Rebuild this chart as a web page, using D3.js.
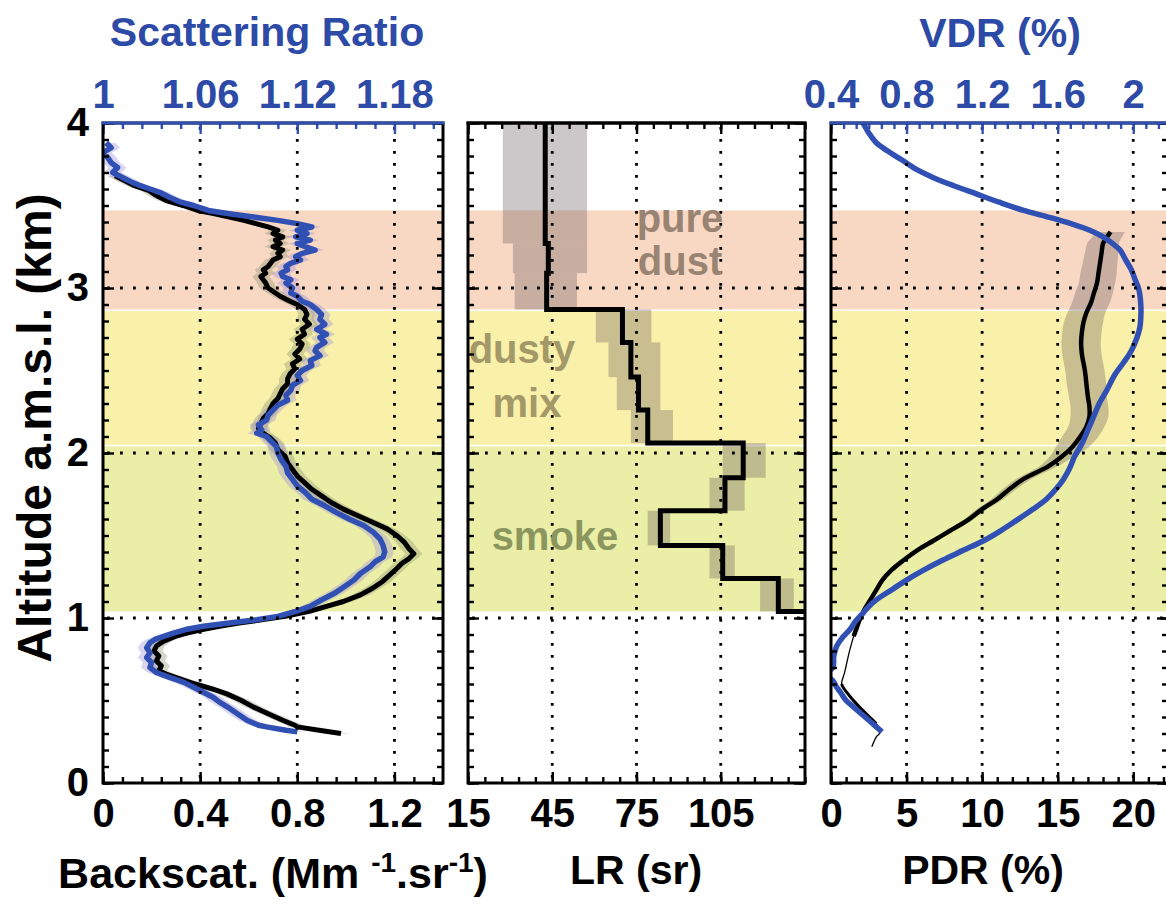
<!DOCTYPE html>
<html>
<head>
<meta charset="utf-8">
<script src="https://cdn.jsdelivr.net/npm/d3@7"></script>
<style>
  body { margin: 0; background: #fff; }
  svg { display: block; }
  text { font-family: "Liberation Sans", Arial, Helvetica, sans-serif; font-weight: bold; }
</style>
</head>
<body>
<svg id="chart" width="1166" height="904"></svg>
<script>
// ---------------- data ----------------
// aerosol layers (altitude, km)
const layerNames  = ["pure dust", "dusty mix", "smoke"];
const layerTop    = [3.47, 2.86, 2.04];
const layerBottom = [2.87, 2.05, 1.04];

// backscatter profile (Mm-1 sr-1), black
const bsAlt = [3.68,3.65,3.62,3.59,3.56,3.53,3.50,3.47,3.45,3.43,
  3.41,3.39,3.37,3.35,3.33,3.31,3.29,3.27,3.25,3.23,
  3.21,3.19,3.17,3.15,3.13,3.11,3.09,3.07,3.05,3.03,
  3.00,2.97,2.95,2.92,2.90,2.87,2.84,2.81,2.78,2.75,
  2.72,2.69,2.66,2.63,2.60,2.57,2.54,2.51,2.48,2.45,
  2.42,2.39,2.36,2.33,2.30,2.27,2.24,2.21,2.18,2.15,
  2.12,2.09,2.06,2.02,1.98,1.94,1.90,1.86,1.82,1.78,
  1.74,1.70,1.66,1.62,1.58,1.54,1.50,1.46,1.42,1.39,
  1.36,1.33,1.30,1.26,1.22,1.18,1.14,1.10,1.07,1.04,
  1.01,0.99,0.97,0.95,0.93,0.91,0.89,0.86,0.83,0.80,
  0.77,0.74,0.71,0.68,0.66,0.63,0.60,0.57,0.54,0.50,
  0.46,0.42,0.38,0.35,0.34,0.32,0.30];
const bsVal = [0.05,0.09,0.13,0.19,0.22,0.26,0.33,0.39,0.46,0.52,
  0.58,0.63,0.68,0.72,0.70,0.74,0.71,0.73,0.70,0.74,
  0.72,0.73,0.70,0.69,0.68,0.66,0.67,0.65,0.66,0.67,
  0.68,0.71,0.73,0.77,0.80,0.83,0.84,0.83,0.85,0.82,
  0.83,0.80,0.82,0.81,0.79,0.81,0.78,0.79,0.77,0.76,
  0.76,0.74,0.73,0.72,0.70,0.69,0.68,0.66,0.65,0.64,
  0.66,0.69,0.71,0.72,0.75,0.76,0.78,0.80,0.83,0.86,
  0.90,0.94,0.99,1.05,1.11,1.17,1.21,1.24,1.26,1.28,
  1.26,1.23,1.21,1.18,1.15,1.11,1.06,0.99,0.92,0.85,
  0.75,0.66,0.56,0.48,0.41,0.35,0.30,0.25,0.22,0.21,
  0.23,0.22,0.24,0.23,0.26,0.32,0.38,0.45,0.51,0.57,
  0.62,0.68,0.74,0.79,0.80,0.89,0.98];
const bsUncert = 0.035;

// scattering ratio profile, blue
const srAlt = [3.88,3.85,3.82,3.79,3.76,3.73,3.70,3.67,3.64,3.62,
  3.60,3.58,3.55,3.52,3.50,3.47,3.45,3.43,3.41,3.39,
  3.37,3.35,3.33,3.31,3.29,3.27,3.25,3.23,3.21,3.19,
  3.17,3.15,3.13,3.11,3.09,3.07,3.05,3.03,3.00,2.97,
  2.95,2.92,2.90,2.87,2.84,2.81,2.78,2.75,2.72,2.70,
  2.67,2.64,2.62,2.59,2.56,2.53,2.50,2.47,2.44,2.41,
  2.38,2.35,2.32,2.29,2.26,2.23,2.20,2.17,2.14,2.12,
  2.10,2.07,2.04,2.00,1.96,1.92,1.88,1.84,1.80,1.76,
  1.72,1.68,1.64,1.60,1.56,1.52,1.48,1.44,1.40,1.37,
  1.34,1.31,1.27,1.23,1.19,1.15,1.11,1.07,1.04,1.01,
  0.99,0.97,0.95,0.93,0.91,0.89,0.87,0.85,0.82,0.79,
  0.76,0.73,0.70,0.67,0.64,0.61,0.58,0.55,0.52,0.49,
  0.46,0.42,0.38,0.35,0.34,0.32,0.31];
const srVal = [1.002,1.005,1.000,1.003,1.005,1.009,1.006,1.012,1.018,1.023,
  1.029,1.035,1.041,1.048,1.056,1.065,1.078,1.093,1.108,1.120,
  1.129,1.120,1.126,1.119,1.128,1.120,1.125,1.131,1.123,1.119,
  1.122,1.116,1.113,1.114,1.110,1.111,1.116,1.113,1.117,1.116,
  1.120,1.123,1.128,1.132,1.135,1.134,1.137,1.132,1.138,1.134,
  1.137,1.132,1.131,1.134,1.128,1.129,1.123,1.120,1.122,1.117,
  1.116,1.113,1.114,1.108,1.105,1.102,1.101,1.096,1.098,1.095,
  1.101,1.104,1.107,1.108,1.110,1.113,1.114,1.117,1.120,1.125,
  1.129,1.137,1.144,1.152,1.161,1.167,1.171,1.173,1.174,1.173,
  1.168,1.165,1.159,1.155,1.149,1.143,1.135,1.128,1.119,1.108,
  1.095,1.078,1.062,1.051,1.044,1.038,1.032,1.029,1.027,1.029,
  1.027,1.030,1.029,1.033,1.041,1.050,1.056,1.062,1.068,1.072,
  1.077,1.083,1.089,1.096,1.101,1.113,1.120];
const srUncert = 0.0055;

// lidar ratio (sr) in altitude bins
const lrBinEdges = [4.0,3.27,3.09,2.87,2.67,2.46,2.26,2.06,1.85,1.65,1.44,1.24,1.04];
const lrVal  = [42.5,43.6,43.0,70.0,73.0,75.7,79.0,113.0,106.5,83.5,105.7,125.5];
const lrLow  = [27.4,31.0,31.6,60.5,65.0,68.0,73.0,105.7,101.0,79.0,101.0,119.0];
const lrHigh = [57.4,57.4,53.8,80.3,83.5,83.5,88.0,121.0,113.5,87.0,110.0,131.0];

// particle depolarisation ratio (%), black
const pdrAlt = [3.34,3.30,3.27,3.21,3.15,3.09,3.03,2.97,2.91,2.85,
  2.79,2.73,2.67,2.60,2.50,2.42,2.34,2.28,2.22,2.16,
  2.10,2.04,1.98,1.92,1.84,1.78,1.72,1.66,1.59,1.53,
  1.47,1.41,1.35,1.29,1.23,1.17,1.11,1.05,0.99,0.94,0.89];
const pdrVal = [18.5,18.2,18.0,17.9,17.8,17.7,17.6,17.4,17.2,16.9,
  16.7,16.6,16.55,16.6,16.8,16.9,17.0,17.1,17.1,16.9,
  16.5,16.0,15.3,14.4,12.7,11.8,11.0,10.0,9.0,7.9,
  6.8,5.7,4.8,4.0,3.4,3.0,2.6,2.2,1.9,1.7,1.5];
const pdrErr = [0.95,1.0,1.05,1.1,1.15,1.2,1.2,1.25,1.25,1.25,
  1.3,1.3,1.3,1.3,1.3,1.3,1.25,1.25,1.25,1.2,
  1.2,1.1,0.8,0.6,0.5,0.45,0.4,0.35,0.3,0.25,
  0.2,0.2,0.15,0.15,0.1,0.1,0.1,0.1,0.1,0.1,0.1];
const pdrTailAlt = [0.89,0.79,0.67,0.60,0.58,0.52,0.44,0.36,0.30,0.28,0.22];
const pdrTailVal = [1.5,1.2,0.9,0.7,0.8,1.3,2.1,3.0,3.2,3.0,2.7];

// volume depolarisation ratio (%), blue
const vdrAlt = [4.00,3.94,3.88,3.83,3.78,3.72,3.67,3.62,3.57,3.52,
  3.47,3.43,3.39,3.35,3.31,3.27,3.23,3.17,3.11,3.05,
  2.99,2.90,2.82,2.76,2.70,2.62,2.55,2.47,2.38,2.30,
  2.22,2.14,2.06,1.98,1.90,1.84,1.78,1.72,1.66,1.59,
  1.53,1.47,1.41,1.35,1.29,1.23,1.17,1.11,1.07,1.03,
  0.98,0.93,0.88,0.83,0.77,0.70,0.66,0.62,0.58,0.55,
  0.50,0.46,0.42,0.38,0.34,0.31];
const vdrVal = [0.57,0.60,0.64,0.70,0.77,0.85,0.94,1.05,1.17,1.29,
  1.42,1.55,1.67,1.77,1.84,1.89,1.93,1.96,1.99,2.01,
  2.03,2.04,2.04,2.035,2.02,1.99,1.95,1.90,1.86,1.82,
  1.79,1.76,1.73,1.69,1.66,1.63,1.59,1.54,1.47,1.38,
  1.30,1.21,1.10,0.99,0.89,0.80,0.72,0.64,0.60,0.57,
  0.53,0.50,0.46,0.43,0.415,0.41,0.37,0.41,0.43,0.45,
  0.48,0.52,0.56,0.60,0.64,0.67];

// tick labels
const altTickLabels = ["0","1","2","3","4"];
const bsTickLabels  = ["0","0.4","0.8","1.2"];
const srTickLabels  = ["1","1.06","1.12","1.18"];
const lrTickLabels  = ["15","45","75","105"];
const pdrTickLabels = ["0","5","10","15","20"];
const vdrTickLabels = ["0.4","0.8","1.2","1.6","2"];

// ---------------- layout & scales ----------------
const BLUE = "#3150b4", BLUE_TXT = "#2c4aa6";
const bandFill = ["#f9d8c3", "#f9f0aa", "#ebeea6"];
const errFill = "rgba(95,85,90,0.32)";
const plotTop = 123, plotBottom = 783;

const svg = d3.select("#chart");
const yAlt = d3.scaleLinear().domain([0, 4]).range([plotBottom, plotTop]);

const pBs  = {x0: 103, x1: 443};
const pLr  = {x0: 468, x1: 805};
const pPdr = {x0: 831, x1: 1168};

const bsX  = d3.scaleLinear().domain([0, 1.4]).range([pBs.x0, pBs.x1]);
const srX  = d3.scaleLinear().domain([1, 1.21]).range([pBs.x0, pBs.x1]);
const lrX  = d3.scaleLinear().domain([15, 135]).range([pLr.x0, pLr.x1]);
const pdrX = d3.scaleLinear().domain([0, 22.3]).range([pPdr.x0, pPdr.x1]);
const vdrX = d3.scaleLinear().domain([0.4, 0.4 + 0.08 * 22.3]).range([pPdr.x0, pPdr.x1]);

const altMinor = d3.range(0, 4.0001, 0.1).map(v => +v.toFixed(2));
const altMajor = altTickLabels.map(Number);

function panelBase(p, id) {
  const g = svg.append("g");
  g.append("clipPath").attr("id", "clip-" + id)
    .append("rect").attr("x", p.x0).attr("y", plotTop).attr("width", p.x1 - p.x0).attr("height", plotBottom - plotTop);
  // layer bands
  g.selectAll("rect.band").data(layerNames).join("rect").attr("class", "band")
    .attr("x", p.x0).attr("width", p.x1 - p.x0)
    .attr("y", (d, i) => yAlt(layerTop[i]))
    .attr("height", (d, i) => yAlt(layerBottom[i]) - yAlt(layerTop[i]))
    .attr("fill", (d, i) => bandFill[i]);
  return g;
}

function dottedGrid(g, xScale, xGrid, p) {
  const gg = g.append("g");
  gg.selectAll("line.v").data(xGrid).join("line")
    .attr("x1", d => xScale(d)).attr("x2", d => xScale(d))
    .attr("y1", plotTop + 4).attr("y2", plotBottom)
    .attr("stroke", "#000").attr("stroke-width", 2.8).attr("stroke-dasharray", "2.8,9.2");
  gg.selectAll("line.h").data([1, 2, 3]).join("line")
    .attr("x1", p.x0 + 4).attr("x2", p.x1)
    .attr("y1", d => yAlt(d)).attr("y2", d => yAlt(d))
    .attr("stroke", "#000").attr("stroke-width", 2.8).attr("stroke-dasharray", "2.8,10.2");
}

function styleAxis(sel, color) {
  sel.select(".domain").remove();
  sel.selectAll("line").attr("stroke", color).attr("stroke-width", 2.4);
  sel.selectAll("text").attr("fill", color === BLUE ? BLUE_TXT : color).attr("font-size", 40)
    .attr("font-family", "'Liberation Sans', Arial, sans-serif").attr("font-weight", "bold");
}

function tickSet(g, axisFn, scale, minor, major, labels, transform, color, pad) {
  g.append("g").attr("transform", transform)
    .call(axisFn(scale).tickValues(minor).tickSize(-6).tickFormat(""))
    .call(s => styleAxis(s, color));
  const ax = axisFn(scale).tickValues(major).tickSize(-11)
    .tickFormat(labels ? (d, i) => labels[i] : "").tickPadding(pad || 0);
  g.append("g").attr("transform", transform).call(ax).call(s => styleAxis(s, color));
}

function frame(g, p, topColor) {
  g.append("rect").attr("x", p.x0).attr("y", plotTop).attr("width", p.x1 - p.x0).attr("height", plotBottom - plotTop)
    .attr("fill", "none").attr("stroke", "#000").attr("stroke-width", 3);
  g.append("line").attr("x1", p.x0 - 1.5).attr("x2", p.x1 + 1.5).attr("y1", plotTop).attr("y2", plotTop)
    .attr("stroke", topColor).attr("stroke-width", 3);
}

function yTicks(g, p, withLabels) {
  tickSet(g, d3.axisLeft, yAlt, altMinor, altMajor, withLabels ? altTickLabels : null,
    `translate(${p.x0},0)`, "#000", 14);
  tickSet(g, d3.axisRight, yAlt, altMinor, altMajor, null, `translate(${p.x1},0)`, "#000");
}

// ---------------- panel 1: backscatter / scattering ratio ----------------
{
  const g = panelBase(pBs, "bs");
  const data = g.append("g").attr("clip-path", "url(#clip-bs)");
  const bsIdx = d3.range(bsAlt.length), srIdx = d3.range(srAlt.length);
  data.append("path").datum(bsIdx)
    .attr("d", d3.area().y(i => yAlt(bsAlt[i])).x0(i => bsX(bsVal[i] - bsUncert)).x1(i => bsX(bsVal[i] + bsUncert)))
    .attr("fill", "rgba(130,140,110,0.35)");
  data.append("path").datum(srIdx)
    .attr("d", d3.area().y(i => yAlt(srAlt[i])).x0(i => srX(srVal[i] - srUncert)).x1(i => srX(srVal[i] + srUncert)))
    .attr("fill", "rgba(150,135,215,0.35)");
  dottedGrid(g, bsX, [0.4, 0.8, 1.2], pBs);
  data.append("path").datum(bsIdx)
    .attr("d", d3.line().x(i => bsX(bsVal[i])).y(i => yAlt(bsAlt[i])))
    .attr("fill", "none").attr("stroke", "#000").attr("stroke-width", 5).attr("stroke-linejoin", "round");
  data.append("path").datum(srIdx)
    .attr("d", d3.line().x(i => srX(srVal[i])).y(i => yAlt(srAlt[i])))
    .attr("fill", "none").attr("stroke", BLUE).attr("stroke-width", 5.5).attr("stroke-linejoin", "round");
  yTicks(g, pBs, true);
  tickSet(g, d3.axisBottom, bsX, d3.range(0, 1.4001, 0.08), bsTickLabels.map(Number), bsTickLabels,
    `translate(0,${plotBottom})`, "#000", 16);
  tickSet(g, d3.axisTop, srX, d3.range(1, 1.2101, 0.012), srTickLabels.map(Number), srTickLabels,
    `translate(0,${plotTop})`, BLUE, 15);
  frame(g, pBs, BLUE);
}

// ---------------- panel 2: lidar ratio ----------------
{
  const g = panelBase(pLr, "lr");
  const data = g.append("g").attr("clip-path", "url(#clip-lr)");
  const bins = d3.range(lrVal.length);
  data.selectAll("rect.err").data(bins).join("rect").attr("class", "err")
    .attr("x", i => lrX(lrLow[i])).attr("width", i => lrX(lrHigh[i]) - lrX(lrLow[i]))
    .attr("y", i => yAlt(lrBinEdges[i])).attr("height", i => yAlt(lrBinEdges[i + 1]) - yAlt(lrBinEdges[i]))
    .attr("fill", errFill);
  dottedGrid(g, lrX, [45, 75, 105], pLr);
  // stepped profile: each bin is a vertical segment, joined by horizontal steps
  const pts = [];
  bins.forEach(i => { pts.push([lrVal[i], lrBinEdges[i]]); pts.push([lrVal[i], lrBinEdges[i + 1]]); });
  pts.push([lrX.domain()[1], lrBinEdges[lrBinEdges.length - 1]]);
  data.append("path").datum(pts)
    .attr("d", d3.line().x(d => lrX(d[0])).y(d => yAlt(d[1])))
    .attr("fill", "none").attr("stroke", "#000").attr("stroke-width", 5).attr("stroke-linejoin", "miter");
  // layer names
  const lbl = [
    {t: "pure", x: 680, y: 232, c: "#998372"},
    {t: "dust", x: 680, y: 275, c: "#998372"},
    {t: "dusty", x: 522, y: 363, c: "#a39868"},
    {t: "mix", x: 527, y: 417, c: "#a39868"},
    {t: "smoke", x: 555, y: 550, c: "#8a965e"}
  ];
  g.selectAll("text.layer").data(lbl).join("text").attr("class", "layer")
    .attr("x", d => d.x).attr("y", d => d.y).attr("text-anchor", "middle")
    .attr("font-size", 40).attr("fill", d => d.c).text(d => d.t);
  yTicks(g, pLr, false);
  tickSet(g, d3.axisBottom, lrX, d3.range(15, 135.001, 6), lrTickLabels.map(Number), lrTickLabels,
    `translate(0,${plotBottom})`, "#000", 16);
  tickSet(g, d3.axisTop, lrX, d3.range(15, 135.001, 6), lrTickLabels.map(Number), null,
    `translate(0,${plotTop})`, "#000");
  frame(g, pLr, "#000");
}

// ---------------- panel 3: depolarisation ----------------
{
  const g = panelBase(pPdr, "pdr");
  const data = g.append("g").attr("clip-path", "url(#clip-pdr)");
  const idx = d3.range(pdrAlt.length);
  data.append("path").datum(idx)
    .attr("d", d3.area().curve(d3.curveCatmullRom).y(i => yAlt(pdrAlt[i]))
      .x0(i => pdrX(pdrVal[i] - pdrErr[i])).x1(i => pdrX(pdrVal[i] + pdrErr[i])))
    .attr("fill", errFill);
  dottedGrid(g, pdrX, [5, 10, 15, 20], pPdr);
  const tIdx = d3.range(pdrTailAlt.length);
  const tail = d3.line().curve(d3.curveCatmullRom).x(i => pdrX(pdrTailVal[i])).y(i => yAlt(pdrTailAlt[i]));
  data.append("path").datum(tIdx).attr("d", tail)
    .attr("fill", "none").attr("stroke", "#000").attr("stroke-width", 1.3);
  data.append("path").datum(tIdx.filter(i => pdrTailAlt[i] <= 0.6 && pdrTailAlt[i] >= 0.36)).attr("d", tail)
    .attr("fill", "none").attr("stroke", "#000").attr("stroke-width", 3);
  data.append("path").datum(idx)
    .attr("d", d3.line().curve(d3.curveCatmullRom).x(i => pdrX(pdrVal[i])).y(i => yAlt(pdrAlt[i])))
    .attr("fill", "none").attr("stroke", "#000").attr("stroke-width", 4.5);
  const vIdx = d3.range(vdrAlt.length);
  data.append("path").datum(vIdx)
    .attr("d", d3.line().curve(d3.curveCatmullRom).x(i => vdrX(vdrVal[i])).y(i => yAlt(vdrAlt[i])))
    .attr("fill", "none").attr("stroke", BLUE).attr("stroke-width", 5.5);
  yTicks(g, pPdr, false);
  tickSet(g, d3.axisBottom, pdrX, d3.range(0, 22.3001, 1), pdrTickLabels.map(Number), pdrTickLabels,
    `translate(0,${plotBottom})`, "#000", 16);
  tickSet(g, d3.axisTop, vdrX, d3.range(0.4, 2.184, 0.4 / 6), vdrTickLabels.map(Number), vdrTickLabels,
    `translate(0,${plotTop})`, BLUE, 15);
  frame(g, pPdr, BLUE);
}

// ---------------- titles ----------------
svg.append("text").attr("x", 267).attr("y", 46).attr("text-anchor", "middle")
  .attr("font-size", 41).attr("fill", BLUE_TXT).text("Scattering Ratio");
svg.append("text").attr("x", 1000).attr("y", 47).attr("text-anchor", "middle")
  .attr("font-size", 41).attr("fill", BLUE_TXT).text("VDR (%)");

svg.append("text").attr("transform", "translate(51,428) rotate(-90)").attr("text-anchor", "middle")
  .attr("font-size", 48).attr("fill", "#000").text("Altitude a.m.s.l. (km)");

const bt = svg.append("text").attr("x", 273).attr("y", 888).attr("text-anchor", "middle")
  .attr("font-size", 43).attr("fill", "#000");
bt.append("tspan").text("Backscat. (Mm ");
bt.append("tspan").attr("font-size", 28).attr("dy", -16).text("-1");
bt.append("tspan").attr("dy", 16).text(".sr");
bt.append("tspan").attr("font-size", 28).attr("dy", -16).text("-1");
bt.append("tspan").attr("dy", 16).text(")");

svg.append("text").attr("x", 636).attr("y", 884).attr("text-anchor", "middle")
  .attr("font-size", 41).attr("fill", "#000").text("LR (sr)");
svg.append("text").attr("x", 983).attr("y", 884).attr("text-anchor", "middle")
  .attr("font-size", 41).attr("fill", "#000").text("PDR (%)");
</script>
</body>
</html>
